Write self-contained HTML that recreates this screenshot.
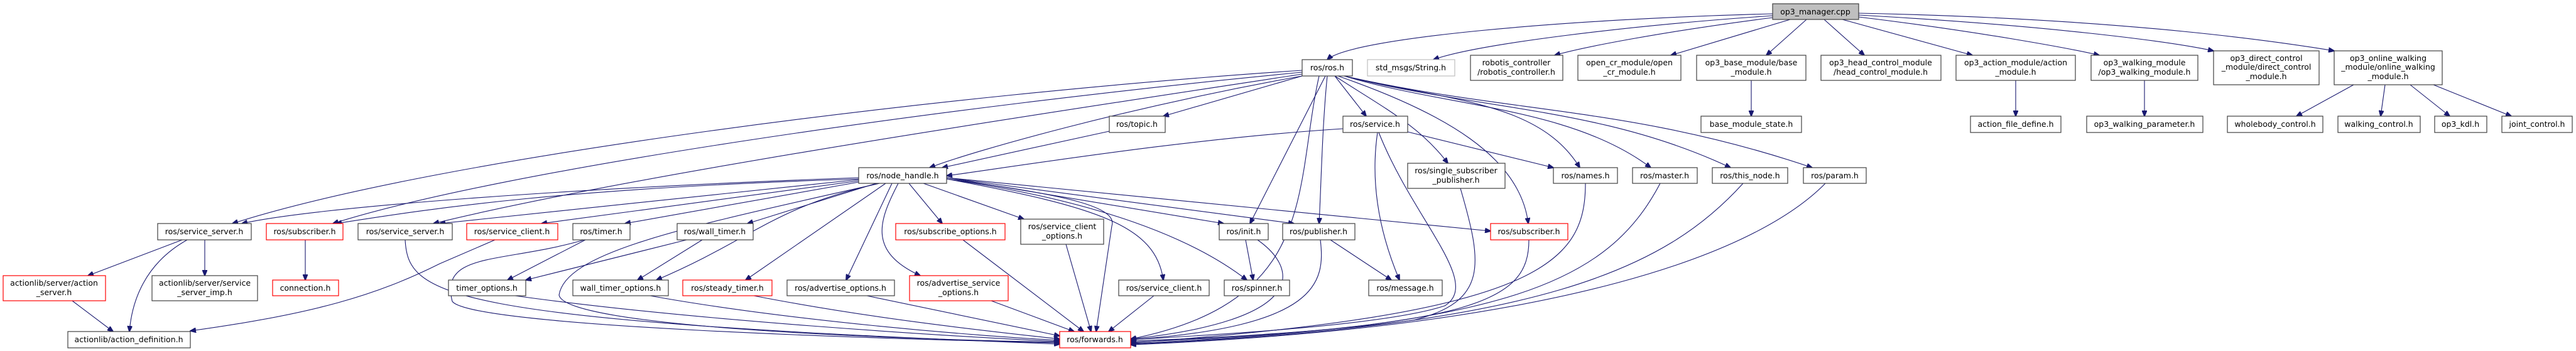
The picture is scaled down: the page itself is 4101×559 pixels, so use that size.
<!DOCTYPE html>
<html><head><meta charset="utf-8"><style>
html,body{margin:0;padding:0;background:#fff;}
svg{display:block;}
text{font-family:"DejaVu Sans","Liberation Sans",sans-serif;font-size:12.5px;fill:#000;text-anchor:middle;}
.n{fill:#fff;stroke:#404040;stroke-width:1.2;}
.r{fill:#fff;stroke:#ff0000;stroke-width:1.2;}
.g{fill:#fff;stroke:#bfbfbf;stroke-width:1.2;}
.e{fill:none;stroke:#191970;stroke-width:1.1;}
</style></head><body>
<svg width="4101" height="559" viewBox="0 0 4101 559" xmlns="http://www.w3.org/2000/svg">
<defs><marker id="a" markerWidth="10" markerHeight="8" refX="9" refY="4" orient="auto" markerUnits="userSpaceOnUse"><path d="M0,0 L10,4 L0,8 Z" fill="#191970" stroke="#191970"/></marker></defs>
<g class="e" marker-end="url(#a)">
<!-- op3_manager -->
<path d="M2822,22 C2500,30 2150,60 2113,95"/>
<path d="M2822,25 C2600,40 2350,70 2282,95"/>
<path d="M2822,28 C2650,50 2520,75 2475,88"/>
<path d="M2850,31 L2660,88"/>
<path d="M2876,31 L2812,88"/>
<path d="M2904,31 L2968,88"/>
<path d="M2933,31 L3140,88"/>
<path d="M2959,27 C3150,50 3300,78 3342,88"/>
<path d="M2959,24 C3250,40 3450,65 3524,81"/>
<path d="M2959,21 C3400,30 3650,70 3716,81"/>
<path d="M2788,128 L2788,185"/>
<path d="M3209,128 L3209,185"/>
<path d="M3414,128 L3414,185"/>
<path d="M3747,135 L3656,185"/>
<path d="M3797,135 L3790,185"/>
<path d="M3837,135 L3900,185"/>
<path d="M3874,135 L3998,185"/>
<!-- ros.h -->
<path d="M2073,112 C1500,150 700,250 370,356"/>
<path d="M2073,115 C1500,170 800,270 530,356"/>
<path d="M2073,118 C1600,190 1000,280 690,356"/>
<path d="M2073,121 C1800,170 1550,240 1480,267"/>
<path d="M2073,121 L1852,185"/>
<path d="M1766,209 L1500,267"/>
<path d="M2110,121 L1990,356"/>
<path d="M2113,121 C2105,200 2103,300 2100,356"/>
<path d="M2125,121 L2175,185"/>
<path d="M2138,205 C1900,220 1650,260 1507,280"/>
<path d="M2125,121 C2200,170 2260,200 2305,260"/>
<path d="M2130,121 C2300,180 2420,250 2433,356"/>
<path d="M2140,121 C2300,160 2450,160 2515,267"/>
<path d="M2140,121 C2300,170 2500,170 2628,267"/>
<path d="M2140,121 C2350,175 2550,170 2755,267"/>
<path d="M2140,121 C2400,180 2600,170 2885,267"/>
<path d="M2100,121 C2060,300 2100,480 1800,540"/>
<path d="M2241,210 L2473,267"/>
<path d="M2193,211 C2180,300 2200,380 2228,446"/>
<path d="M2195,211 C2250,350 2360,450 2300,487 C2200,520 1900,535 1800,541"/>
<path d="M2325,300 C2360,420 2370,480 2250,510 C2100,530 1900,540 1800,543"/>
<path d="M2434,382 C2434,480 2350,520 1800,545"/>
<path d="M2524,292 C2524,420 2450,500 1800,546"/>
<path d="M2643,292 C2560,450 2400,520 1800,547"/>
<path d="M2775,292 C2650,430 2450,520 1800,548"/>
<path d="M2906,292 C2800,400 2500,520 1800,549"/>
<path d="M1983,382 L1995,446"/>
<path d="M2002,382 C2070,430 2080,510 1800,540"/>
<path d="M2118,382 L2215,446"/>
<path d="M2102,382 C2110,450 2100,520 1800,541"/>
<!-- node_handle -->
<path d="M1507,283 C1900,320 2200,350 2373,368"/>
<path d="M1367,283 C900,300 500,330 385,356"/>
<path d="M1367,285 C900,300 700,330 535,356"/>
<path d="M1367,286 L700,356"/>
<path d="M1367,288 L862,356"/>
<path d="M1367,290 L995,356"/>
<path d="M1395,292 L1190,356"/>
<path d="M1400,292 C1230,330 1200,380 1045,446"/>
<path d="M1410,292 L1187,446"/>
<path d="M1420,292 L1347,446"/>
<path d="M1430,292 C1400,350 1380,400 1465,439"/>
<path d="M1447,292 L1500,356"/>
<path d="M1470,292 L1630,349"/>
<path d="M1507,285 C1700,310 1780,330 1770,360 L1745,528"/>
<path d="M1507,285 C1750,330 1840,360 1852,446"/>
<path d="M1507,285 C1750,320 1900,380 1985,446"/>
<path d="M1507,283 L1948,356"/>
<path d="M1507,283 L2060,356"/>
<path d="M1400,292 C1100,360 900,400 890,470 C900,520 1400,540 1687,545"/>
<!-- lower -->
<path d="M1837,471 L1765,528"/>
<path d="M1697,389 L1737,528"/>
<path d="M1533,382 L1725,528"/>
<path d="M1578,479 L1710,528"/>
<path d="M1380,471 L1687,535"/>
<path d="M1200,471 C1400,510 1600,530 1687,540"/>
<path d="M1035,471 C1250,510 1550,535 1687,542"/>
<path d="M820,471 C1100,510 1500,535 1687,544"/>
<path d="M930,382 C800,420 700,400 720,480 C750,520 1400,540 1687,546"/>
<path d="M645,382 C650,470 700,510 1687,548"/>
<path d="M932,382 L808,446"/>
<path d="M1093,382 L837,446"/>
<path d="M1118,382 L1015,446"/>
<path d="M290,382 L140,439"/>
<path d="M298,382 C230,420 210,480 206,528"/>
<path d="M326,382 L326,439"/>
<path d="M115,479 L180,528"/>
<path d="M486,382 L486,446"/>
<path d="M788,382 L700,420 C600,470 500,500 303,527"/>
</g>
<!-- nodes -->
<rect x="2822" y="6" width="137" height="25" fill="#bfbfbf" stroke="#404040" stroke-width="1.2"/><text x="2890" y="23">op3_manager.cpp</text>
<rect class="n" x="2073" y="95" width="80" height="26"/><text x="2113" y="112">ros/ros.h</text>
<rect class="g" x="2177" y="95" width="139" height="26"/><text x="2246" y="112">std_msgs/String.h</text>
<rect class="n" x="2341" y="88" width="147" height="40"/><text x="2414" y="104">robotis_controller</text><text x="2414" y="119">/robotis_controller.h</text>
<rect class="n" x="2512" y="88" width="164" height="40"/><text x="2594" y="104">open_cr_module/open</text><text x="2594" y="119">_cr_module.h</text>
<rect class="n" x="2701" y="88" width="174" height="40"/><text x="2788" y="104">op3_base_module/base</text><text x="2788" y="119">_module.h</text>
<rect class="n" x="2899" y="88" width="191" height="40"/><text x="2994" y="104">op3_head_control_module</text><text x="2994" y="119">/head_control_module.h</text>
<rect class="n" x="3114" y="88" width="190" height="40"/><text x="3209" y="104">op3_action_module/action</text><text x="3209" y="119">_module.h</text>
<rect class="n" x="3329" y="88" width="170" height="40"/><text x="3414" y="104">op3_walking_module</text><text x="3414" y="119">/op3_walking_module.h</text>
<rect class="n" x="3524" y="81" width="168" height="54"/><text x="3608" y="97">op3_direct_control</text><text x="3608" y="111">_module/direct_control</text><text x="3608" y="126">_module.h</text>
<rect class="n" x="3716" y="81" width="172" height="54"/><text x="3802" y="97">op3_online_walking</text><text x="3802" y="111">_module/online_walking</text><text x="3802" y="126">_module.h</text>
<rect class="n" x="1766" y="185" width="89" height="26"/><text x="1810" y="202">ros/topic.h</text>
<rect class="n" x="2138" y="185" width="103" height="26"/><text x="2189" y="202">ros/service.h</text>
<rect class="n" x="2708" y="185" width="160" height="26"/><text x="2788" y="202">base_module_state.h</text>
<rect class="n" x="3137" y="185" width="144" height="26"/><text x="3209" y="202">action_file_define.h</text>
<rect class="n" x="3322" y="185" width="185" height="26"/><text x="3414" y="202">op3_walking_parameter.h</text>
<rect class="n" x="3546" y="185" width="152" height="26"/><text x="3622" y="202">wholebody_control.h</text>
<rect class="n" x="3722" y="185" width="131" height="26"/><text x="3787" y="202">walking_control.h</text>
<rect class="n" x="3876" y="185" width="83" height="26"/><text x="3917" y="202">op3_kdl.h</text>
<rect class="n" x="3983" y="185" width="112" height="26"/><text x="4039" y="202">joint_control.h</text>
<rect class="n" x="1367" y="267" width="140" height="25"/><text x="1437" y="284">ros/node_handle.h</text>
<rect class="n" x="2241" y="260" width="155" height="40"/><text x="2318" y="276">ros/single_subscriber</text><text x="2318" y="291">_publisher.h</text>
<rect class="n" x="2473" y="267" width="102" height="25"/><text x="2524" y="284">ros/names.h</text>
<rect class="n" x="2599" y="267" width="103" height="25"/><text x="2650" y="284">ros/master.h</text>
<rect class="n" x="2726" y="267" width="120" height="25"/><text x="2786" y="284">ros/this_node.h</text>
<rect class="n" x="2871" y="267" width="100" height="25"/><text x="2921" y="284">ros/param.h</text>
<rect class="n" x="251" y="356" width="149" height="26"/><text x="325" y="373">ros/service_server.h</text>
<rect class="r" x="424" y="356" width="122" height="26"/><text x="485" y="373">ros/subscriber.h</text>
<rect class="n" x="570" y="356" width="150" height="26"/><text x="645" y="373">ros/service_server.h</text>
<rect class="r" x="743" y="356" width="145" height="26"/><text x="815" y="373">ros/service_client.h</text>
<rect class="n" x="912" y="356" width="91" height="26"/><text x="957" y="373">ros/timer.h</text>
<rect class="n" x="1078" y="356" width="121" height="26"/><text x="1138" y="373">ros/wall_timer.h</text>
<rect class="r" x="1426" y="356" width="174" height="26"/><text x="1513" y="373">ros/subscribe_options.h</text>
<rect class="n" x="1625" y="349" width="132" height="40"/><text x="1691" y="365">ros/service_client</text><text x="1691" y="380">_options.h</text>
<rect class="n" x="1941" y="356" width="78" height="26"/><text x="1980" y="373">ros/init.h</text>
<rect class="n" x="2042" y="356" width="115" height="26"/><text x="2099" y="373">ros/publisher.h</text>
<rect class="r" x="2373" y="356" width="123" height="26"/><text x="2434" y="373">ros/subscriber.h</text>
<rect class="r" x="5" y="439" width="163" height="40"/><text x="86" y="455">actionlib/server/action</text><text x="86" y="470">_server.h</text>
<rect class="n" x="242" y="439" width="168" height="40"/><text x="326" y="455">actionlib/server/service</text><text x="326" y="470">_server_imp.h</text>
<rect class="r" x="434" y="446" width="105" height="25"/><text x="486" y="463">connection.h</text>
<rect class="n" x="714" y="446" width="123" height="25"/><text x="775" y="463">timer_options.h</text>
<rect class="n" x="912" y="446" width="152" height="25"/><text x="988" y="463">wall_timer_options.h</text>
<rect class="r" x="1087" y="446" width="142" height="25"/><text x="1158" y="463">ros/steady_timer.h</text>
<rect class="n" x="1253" y="446" width="171" height="25"/><text x="1338" y="463">ros/advertise_options.h</text>
<rect class="r" x="1448" y="439" width="157" height="40"/><text x="1526" y="455">ros/advertise_service</text><text x="1526" y="470">_options.h</text>
<rect class="n" x="1781" y="446" width="144" height="25"/><text x="1853" y="463">ros/service_client.h</text>
<rect class="n" x="1949" y="446" width="104" height="25"/><text x="2001" y="463">ros/spinner.h</text>
<rect class="n" x="2179" y="446" width="117" height="25"/><text x="2237" y="463">ros/message.h</text>
<rect class="n" x="108" y="528" width="195" height="26"/><text x="205" y="545">actionlib/action_definition.h</text>
<rect class="r" x="1687" y="528" width="113" height="26"/><text x="1743" y="545">ros/forwards.h</text>
</svg>
</body></html>
